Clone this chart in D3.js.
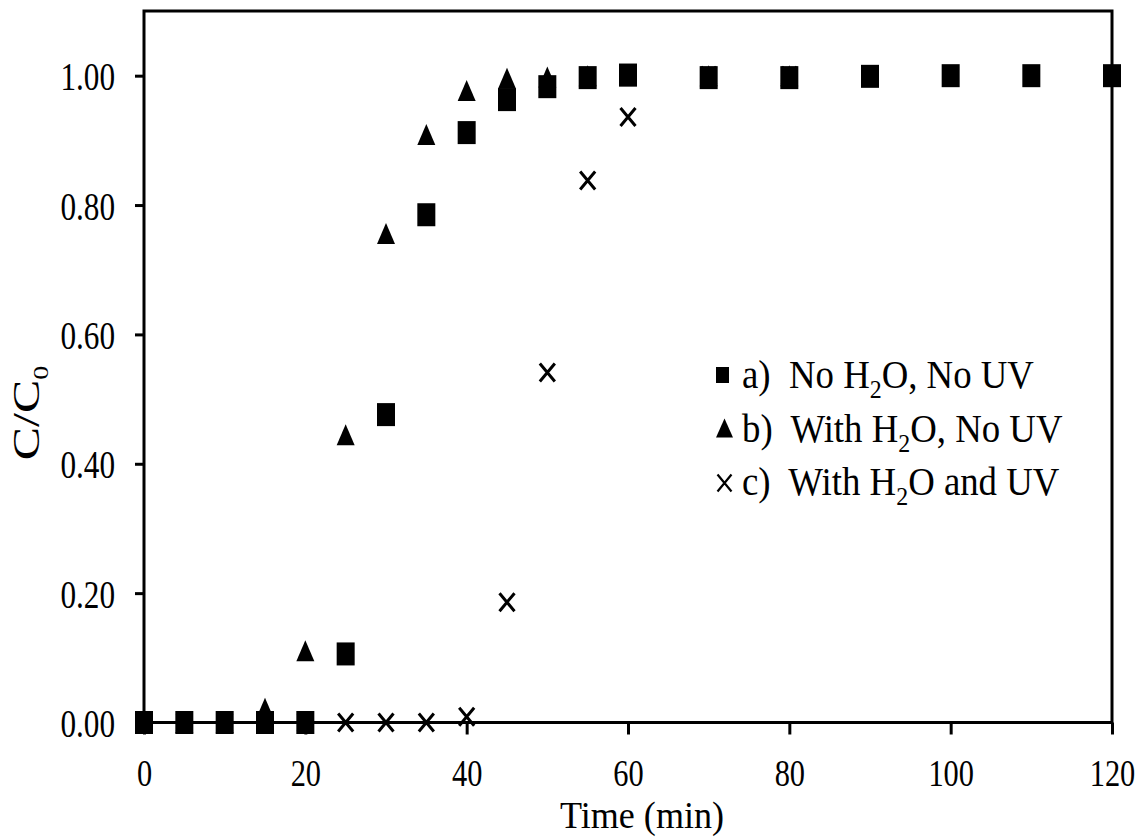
<!DOCTYPE html>
<html>
<head>
<meta charset="utf-8">
<script src="https://cdn.jsdelivr.net/npm/d3@7"></script>
<style>
  body { margin: 0; background: #fff; }
  svg { display: block; }
  text { font-family: "Liberation Serif", "Times New Roman", serif; fill: #000; }
</style>
</head>
<body>
<svg id="chart" width="1140" height="839"></svg>
<script>
// data
const timeA = [0, 5, 10, 15, 20, 25, 30, 35, 40, 45, 50, 55, 60, 70, 80, 90, 100, 110, 120];
const noWaterNoUV = [0, 0, 0, 0, 0, 0.106, 0.476, 0.785, 0.912, 0.963, 0.983, 0.997, 1.001, 0.997, 0.997, 0.999, 1.0, 1.0, 1.0];

const timeB = [0, 5, 10, 15, 20, 25, 30, 35, 40, 45, 50, 55, 60, 70, 80];
const waterNoUV = [0, 0, 0, 0.022, 0.111, 0.445, 0.756, 0.909, 0.977, 0.996, 0.998, 1.0, 1.0, 1.0, 1.0];

const timeC = [0, 5, 10, 15, 20, 25, 30, 35, 40, 45, 50, 55, 60, 70, 80];
const waterAndUV = [0, 0, 0, 0, 0, 0, 0, 0, 0.009, 0.186, 0.541, 0.838, 0.936, 1.0, 1.0];

const xTicks = [0, 20, 40, 60, 80, 100, 120];
const yTicks = [0, 0.2, 0.4, 0.6, 0.8, 1.0];

const legendItems = [
    { marker: "square", pre: "a)  No H", post: "O, No UV" },
    { marker: "triangle", pre: "b)  With H", post: "O, No UV" },
    { marker: "cross", pre: "c)  With H", post: "O and UV" }
];

const svg = d3.select("#chart");

const x = d3.scaleLinear().domain([0, 120]).range([144, 1112]);
const y = d3.scaleLinear().domain([0, 1.1]).range([722.5, 11]);

// frame
svg.append("rect")
    .attr("x", x(0)).attr("y", y(1.1))
    .attr("width", x(120) - x(0)).attr("height", y(0) - y(1.1))
    .attr("fill", "none").attr("stroke", "#000").attr("stroke-width", 3);

// y axis
const yAxis = svg.append("g")
    .attr("transform", `translate(${x(0)},0)`)
    .call(d3.axisLeft(y).tickValues(yTicks).tickSize(9).tickFormat(d3.format(".2f")));
yAxis.select(".domain").remove();
yAxis.selectAll("line").attr("stroke", "#000").attr("stroke-width", 3);
yAxis.selectAll("text")
    .attr("x", 0).attr("dy", null).attr("y", 0)
    .attr("transform", "translate(-29,14) scale(0.78,1)")
    .attr("font-size", 40).attr("font-family", null).attr("fill", "#000");

// x axis
const xAxis = svg.append("g")
    .attr("transform", `translate(0,${y(0)})`)
    .call(d3.axisBottom(x).tickValues(xTicks).tickSize(12));
xAxis.select(".domain").remove();
xAxis.selectAll("line").attr("stroke", "#000").attr("stroke-width", 3);
xAxis.selectAll("text")
    .attr("y", 0).attr("dy", null)
    .attr("transform", "translate(0,63) scale(0.8,1)")
    .attr("font-size", 38).attr("font-family", null).attr("fill", "#000");

// axis titles
svg.append("text")
    .attr("transform", "translate(642,828) scale(0.95,1)")
    .attr("text-anchor", "middle")
    .attr("font-size", 38)
    .text("Time (min)");

const yTitle = svg.append("text")
    .attr("transform", "translate(39,413) rotate(-90) scale(1,0.76)")
    .attr("text-anchor", "middle")
    .attr("font-size", 50);
yTitle.append("tspan").text("C/C");
yTitle.append("tspan").attr("font-size", 28).attr("dy", 12).text("0");

// marker helpers
function square(g, cx, cy, w, h) {
    g.append("rect").attr("x", cx - w / 2).attr("y", cy - h / 2)
        .attr("width", w).attr("height", h).attr("fill", "#000");
}
function triangle(g, cx, cy, w, h) {
    g.append("path")
        .attr("d", `M${cx},${cy - h / 2}L${cx + w / 2},${cy + h / 2}L${cx - w / 2},${cy + h / 2}Z`)
        .attr("fill", "#000");
}
function cross(g, cx, cy, w, h, sw) {
    g.append("path")
        .attr("d", `M${cx - w / 2},${cy - h / 2}L${cx + w / 2},${cy + h / 2}M${cx + w / 2},${cy - h / 2}L${cx - w / 2},${cy + h / 2}`)
        .attr("stroke", "#000").attr("stroke-width", sw).attr("fill", "none");
}

const marks = svg.append("g");
timeA.forEach((t, i) => square(marks, x(t), y(noWaterNoUV[i]), 18, 23));
timeB.forEach((t, i) => triangle(marks, x(t), y(waterNoUV[i]), 18, 21));
timeC.forEach((t, i) => cross(marks, x(t), y(waterAndUV[i]), 15, 18, 3));

// legend
const legend = svg.append("g");
const legendBase = [388, 442, 495];
legendItems.forEach((d, i) => {
    const by = legendBase[i];
    if (d.marker === "square") square(legend, 722.5, by - 13, 13, 16);
    if (d.marker === "triangle") triangle(legend, 724.5, by - 14, 17, 19);
    if (d.marker === "cross") cross(legend, 724.5, by - 12, 14, 17, 2.2);
    const t = legend.append("text")
        .attr("transform", `translate(742,${by}) scale(0.92,1)`)
        .attr("font-size", 40)
        .style("white-space", "pre");
    t.append("tspan").text(d.pre);
    t.append("tspan").attr("font-size", 26).attr("dy", 10).text("2");
    t.append("tspan").attr("dy", -10).text(d.post);
});
</script>
</body>
</html>
